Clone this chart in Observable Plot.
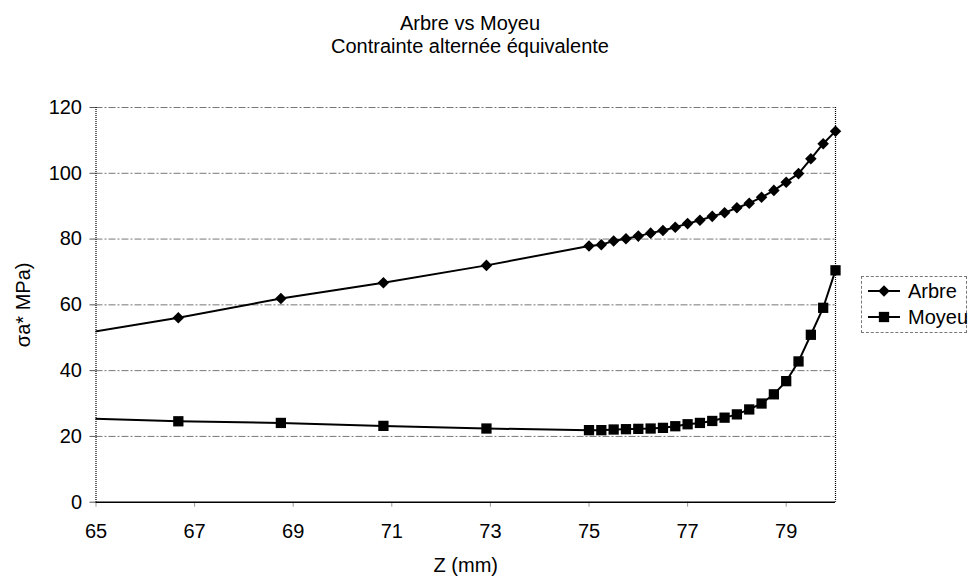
<!DOCTYPE html>
<html>
<head>
<meta charset="utf-8">
<script src="https://cdn.jsdelivr.net/npm/d3@7"></script>
<script src="https://cdn.jsdelivr.net/npm/@observablehq/plot@0.6"></script>
<style>
  body { margin: 0; background: #fff; font-family: "Liberation Sans", Arial, sans-serif; }
  #wrap { position: relative; width: 969px; height: 579px; overflow: hidden; }
  #title { height: 60px; text-align: center; font-size: 20px; line-height: 23px; padding-top: 12px; box-sizing: border-box; width: 940px; color: #000; }
  #legend { position: absolute; left: 861px; top: 276px; width: 106px; height: 57px; border: 1px dashed #777; box-sizing: border-box; font-size: 20px; color: #000; }
  .item { position: absolute; left: 4px; height: 24px; display: flex; align-items: center; }
  .item svg { margin-right: 6px; }
</style>
</head>
<body>
<div id="wrap">
  <div id="title">Arbre vs Moyeu<br>Contrainte alternée équivalente</div>
  <div id="chart"></div>
  <div id="legend"></div>
</div>
<script>
const z = [64.58, 66.67, 68.75, 70.83, 72.92, 75, 75.25, 75.5, 75.75, 76, 76.25, 76.5, 76.75, 77, 77.25, 77.5, 77.75, 78, 78.25, 78.5, 78.75, 79, 79.25, 79.5, 79.75, 80];
const arbre = [50.9, 56.1, 61.9, 66.7, 72.0, 77.9, 78.3, 79.4, 80.1, 80.9, 81.8, 82.6, 83.6, 84.7, 85.7, 86.9, 88.0, 89.5, 90.9, 92.7, 94.8, 97.3, 99.9, 104.4, 109.0, 112.8];
const moyeu = [25.6, 24.6, 24.1, 23.2, 22.4, 21.9, 21.9, 22.1, 22.2, 22.3, 22.4, 22.6, 23.1, 23.7, 24.1, 24.7, 25.7, 26.7, 28.2, 30.0, 32.8, 36.8, 42.8, 50.9, 59.1, 70.5];
const series = ["Arbre", "Moyeu"];
const xTicks = [65, 67, 69, 71, 73, 75, 77, 79];
const yTicks = [0, 20, 40, 60, 80, 100, 120];

const rows = [];
z.forEach((v, i) => {
  rows.push({z: v, s: series[0], v: arbre[i]});
  rows.push({z: v, s: series[1], v: moyeu[i]});
});
const visible = rows.filter(d => d.z >= 65);

const chart = Plot.plot({
  width: 969,
  height: 519,
  marginLeft: 95.5,
  marginRight: 134,
  marginTop: 47,
  marginBottom: 77.3,
  style: { fontFamily: "Liberation Sans, Arial, sans-serif", fontSize: "20px", color: "#000", background: "transparent" },
  x: { domain: [65, 80] },
  y: { domain: [0, 120] },
  marks: [
    Plot.gridY(yTicks.filter(t => t > 0), { stroke: "#777", strokeOpacity: 1, strokeWidth: 1, strokeDasharray: "7,2,2,2" }),
    Plot.axisY({ ticks: yTicks, tickSize: 6, tickPadding: 8, stroke: "#555", tickFormat: d => String(d), label: "σa* MPa)", labelAnchor: "center", labelOffset: 80, labelArrow: false }),
    Plot.axisX({ ticks: xTicks, tickSize: 5, tickPadding: 17, stroke: "#999", tickFormat: d => String(d), label: "Z (mm)", labelAnchor: "center", labelOffset: 70, labelArrow: false }),
    Plot.ruleX([65], { stroke: "#000", strokeWidth: 1.2, strokeDasharray: "1,1" }),
    Plot.ruleX([80], { stroke: "#000", strokeWidth: 1.2, strokeDasharray: "1,1" }),
    Plot.ruleY([0], { stroke: "#000", strokeWidth: 1.5 }),
    Plot.line(rows, { x: "z", y: "v", z: "s", stroke: "#000", strokeWidth: 2, clip: true }),
    Plot.dot(visible.filter(d => d.s === "Arbre"), { x: "z", y: "v", symbol: "diamond2", r: 5.2, fill: "#000", stroke: "none" }),
    Plot.dot(visible.filter(d => d.s === "Moyeu"), { x: "z", y: "v", symbol: "square", r: 5.8, fill: "#000", stroke: "none" })
  ]
});
document.getElementById("chart").appendChild(chart);

// legend
const legend = document.getElementById("legend");
const symbols = { Arbre: d3.symbol(d3.symbolDiamond2, 85)(), Moyeu: d3.symbol(d3.symbolSquare, 106)() };
series.forEach((name, i) => {
  const item = document.createElement("div");
  item.className = "item";
  item.style.top = (2 + i * 26) + "px";
  item.innerHTML = `<svg width="36" height="20"><line x1="2" x2="34" y1="10" y2="10" stroke="#000" stroke-width="2"/><path d="${symbols[name]}" transform="translate(18,10)" fill="#000"/></svg><span>${name}</span>`;
  legend.appendChild(item);
});
</script>
</body>
</html>
